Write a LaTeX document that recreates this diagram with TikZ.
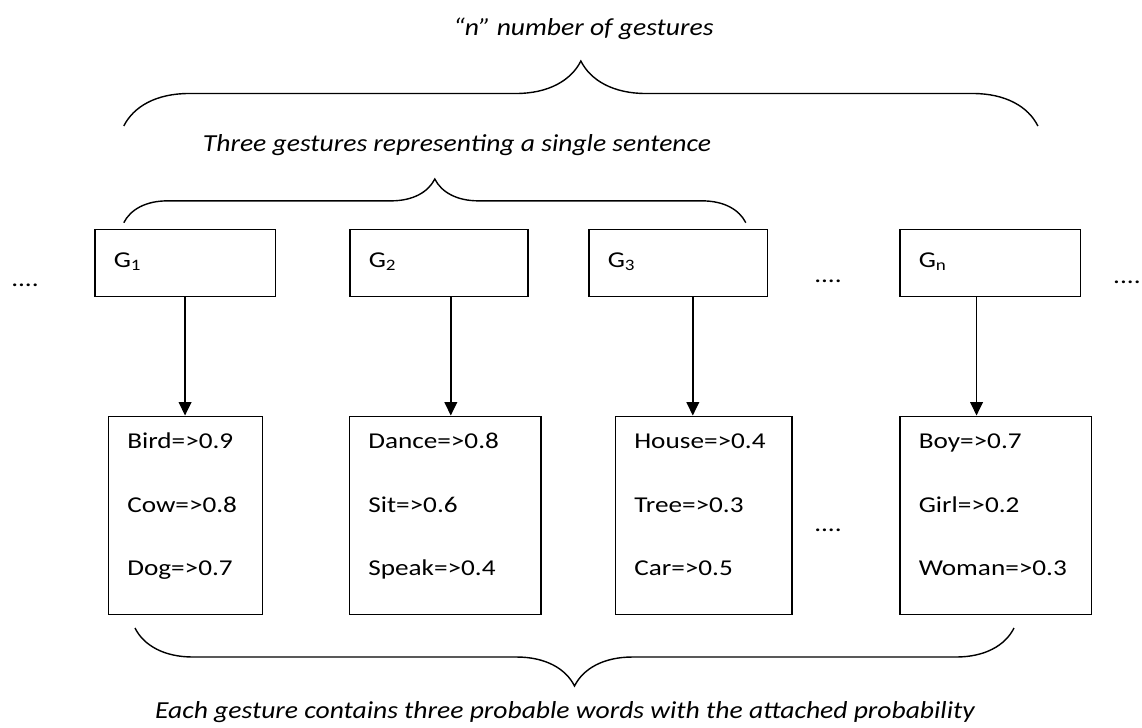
\documentclass[tikz,border=0pt]{standalone}
\usepackage{fontspec}
\setmainfont[FakeStretch=1.2]{Carlito}
\newfontfamily\notefont[FakeStretch=1.13]{Carlito}
\usepackage{tikz}
\usetikzlibrary{positioning, arrows.meta, decorations.pathreplacing}
\hyphenpenalty=10000
\exhyphenpenalty=10000

\begin{document}
\begin{tikzpicture}[
    font=\fontsize{12.9}{15.5}\selectfont,
    gesture/.style={draw, line width=0.9pt, text width=#1, inner xsep=0.38cm, inner ysep=0pt,
        text height=0.76cm, text depth=0.58cm, align=left, anchor=north west},
    words/.style={draw, line width=0.9pt, text width=#1, inner xsep=0.38cm, inner ysep=0pt,
        text height=0.65cm, text depth=3.31cm, align=left, anchor=north west,
        font=\fontsize{12.9}{36.1}\selectfont},
    dots/.style={inner sep=0pt},
    note/.style={anchor=base, font=\notefont\fontsize{13.9}{16}\selectfont\itshape},
    arr/.style={-{Triangle[width=7.2pt, length=7.6pt]}, line width=0.8pt},
    curly/.style={decorate, decoration={brace, amplitude=#1}, line width=0.8pt}
]
    % Seitenrahmen
    \useasboundingbox (0,0) rectangle (22.84,-14.54);

    % --- Gesten (obere Reihe) ---
    \node[gesture=2.85cm] (g1) at (1.88,-4.57) {G\textsubscript{1}};
    \node[gesture=2.80cm] (g2) at (6.98,-4.57) {G\textsubscript{2}};
    \node[gesture=2.81cm] (g3) at (11.76,-4.57) {G\textsubscript{3}};
    \node[gesture=2.85cm] (gn) at (17.98,-4.57) {G\textsubscript{n}};

    % --- Wahrscheinliche Woerter (untere Reihe) ---
    \node[words=2.32cm] (w1) at (2.15,-8.31) {Bird=>0.9\\Cow=>0.8\\Dog=>0.7};
    \node[words=3.07cm] (w2) at (6.97,-8.31) {Dance=>0.8\\Sit=>0.6\\Speak=>0.4};
    \node[words=2.77cm] (w3) at (12.29,-8.31) {House=>0.4\\Tree=>0.3\\Car=>0.5};
    \node[words=3.07cm] (wn) at (17.98,-8.31) {Boy=>0.7\\Girl=>0.2\\Woman=>0.3};

    % Pfeile
    \draw[arr] (g1.south) -- (g1.south |- w1.north);
    \draw[arr] ([xshift=0.24cm]g2.south) -- ([xshift=0.24cm]g2.south |- w2.north);
    \draw[arr] ([xshift=0.295cm]g3.south) -- ([xshift=0.295cm]g3.south |- w3.north);
    \draw[arr] ([xshift=-0.27cm]gn.south) -- ([xshift=-0.27cm]gn.south |- wn.north);

    % Punkte
    \node[dots] (dotsl) at (0.5,-5.7) {....};
    \node[dots] (dotsm) at (16.56,-5.63) {....};
    \node[dots] (dotsb) at (16.56,-10.6) {....};
    \node[dots, anchor=east] (dotsr) at (22.82,-5.64) {....};

    % --- Klammern + Beschriftung ---
    \draw[curly=1.3cm] (2.476,-2.52) -- (20.758,-2.52);
    \node[note] (ngest) at (11.67,-0.70) {“n” number of gestures};

    \draw[curly=0.874cm] (2.476,-4.454) -- (14.916,-4.454);
    \node[note] (three) at (9.14,-3.03) {Three gestures representing a single sentence};

    \draw[curly=1.16cm] (20.28,-12.56) -- (2.70,-12.56);
    \node[note] (each) at (11.3,-14.36) {Each gesture contains three probable words with the attached probability};

\end{tikzpicture}
\end{document}
